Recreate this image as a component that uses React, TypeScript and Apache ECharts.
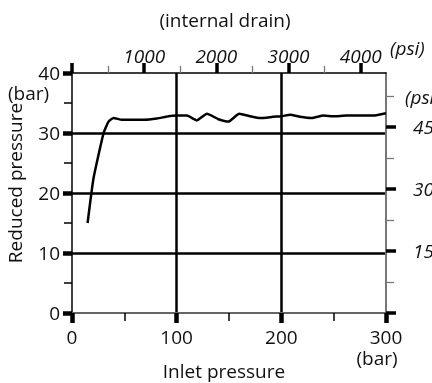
import React, { useEffect, useRef } from "react";
import * as echarts from "echarts";

// Data (bar units)
const inletBar = [14.9, 20.6, 30.2, 34.9, 39.7, 47.7, 68.3, 81.1, 92.2, 100.2, 109.8, 119.3, 128.9, 139.9, 149.5, 159.7, 170.2, 179.7, 192.4, 200.4, 208.4, 217.9, 229.1, 240.2, 249.7, 262.5, 287.9, 300];
const reducedBar = [15.0, 22.5, 30.0, 31.9, 32.5, 32.2, 32.2, 32.4, 32.8, 32.9, 32.9, 32.1, 33.2, 32.3, 31.9, 33.2, 32.8, 32.5, 32.7, 32.8, 33.05, 32.7, 32.5, 32.9, 32.8, 32.9, 32.9, 33.3];

const PSI_PER_BAR = 14.5038;
const inletMaxBar = 300;
const reducedMaxBar = 40;
const topPsiMajor = [0, 1000, 2000, 3000, 4000];
const topPsiLabels = [1000, 2000, 3000, 4000];
const topPsiMinor = [500, 1500, 2500, 3500];
const rightPsiMajor = [0, 150, 300, 450];
const rightPsiLabels = [150, 300, 450];
const rightPsiMinor = [75, 225, 375, 525];

const FONT = "'Open Sans', 'Liberation Sans', sans-serif";
const TXT = "#111";

export default function App() {
  const ref = useRef<HTMLDivElement>(null);
  useEffect(() => {
    if (!ref.current) return;
    const chart = echarts.init(ref.current, null, { renderer: "svg" });
    const data = inletBar.map((x, i) => [x, reducedBar[i]]);
    const labelStyle = { fontSize: 19, color: TXT, fontFamily: FONT };
    const plain = (v: number) => String(v);
    const txt = (text: string, x: number, y: number, extra: any = {}, styleExtra: any = {}) => ({
      type: "text",
      x,
      y,
      ...extra,
      style: { text, fontSize: 19, lineHeight: 15, fill: TXT, fontFamily: FONT, align: "center", verticalAlign: "middle", ...styleExtra },
    });
    chart.setOption({
      animation: false,
      grid: { left: 72, top: 73, width: 314, height: 240, containLabel: false, outerBoundsMode: "none" },
      xAxis: [
        {
          type: "value",
          position: "bottom",
          min: 0,
          max: inletMaxBar,
          interval: 100,
          axisLine: { show: true, onZero: false, lineStyle: { color: "#666", width: 2 } },
          axisTick: { show: true, length: 10, lineStyle: { color: "#000", width: 4.5 } },
          minorTick: { show: true, splitNumber: 2, length: 8, lineStyle: { color: "#000", width: 1.5 } },
          axisLabel: { ...labelStyle, margin: 14, formatter: plain },
          splitLine: { show: true, showMinLine: false, showMaxLine: false, lineStyle: { color: "#000", width: 2.5 } },
          minorSplitLine: { show: false },
        },
        {
          type: "value",
          position: "top",
          min: 0,
          max: inletMaxBar * PSI_PER_BAR,
          axisLine: { show: true, onZero: false, lineStyle: { color: "#000", width: 1.5 } },
          axisTick: { show: true, customValues: topPsiMinor, length: 7, lineStyle: { color: "#777", width: 1.3 } },
          axisLabel: { show: false },
          splitLine: { show: false },
        },
        {
          type: "value",
          position: "top",
          min: 0,
          max: inletMaxBar * PSI_PER_BAR,
          axisLine: { show: false, onZero: false },
          axisTick: { show: true, customValues: topPsiMajor, length: 10, lineStyle: { color: "#000", width: 3.5 } },
          axisLabel: { ...labelStyle, fontStyle: "italic", customValues: topPsiLabels, margin: 8, formatter: plain },
          splitLine: { show: false },
        },
      ],
      yAxis: [
        {
          type: "value",
          position: "left",
          min: 0,
          max: reducedMaxBar,
          interval: 10,
          axisLine: { show: true, onZero: false, lineStyle: { color: "#000", width: 1.5 } },
          axisTick: { show: true, length: 9, lineStyle: { color: "#000", width: 4.5 } },
          minorTick: { show: true, splitNumber: 2, length: 8, lineStyle: { color: "#000", width: 1.5 } },
          axisLabel: { ...labelStyle, margin: 12, formatter: plain },
          splitLine: { show: true, showMinLine: false, showMaxLine: false, lineStyle: { color: "#000", width: 2.5 } },
          minorSplitLine: { show: false },
        },
        {
          type: "value",
          position: "right",
          min: 0,
          max: reducedMaxBar * PSI_PER_BAR,
          axisLine: { show: true, onZero: false, lineStyle: { color: "#777", width: 2 } },
          axisTick: { show: true, customValues: rightPsiMinor, length: 8, lineStyle: { color: "#777", width: 1.3 } },
          axisLabel: { show: false },
          splitLine: { show: false },
        },
        {
          type: "value",
          position: "right",
          min: 0,
          max: reducedMaxBar * PSI_PER_BAR,
          axisLine: { show: false, onZero: false },
          axisTick: { show: true, customValues: rightPsiMajor, length: 10, lineStyle: { color: "#000", width: 3.5 } },
          axisLabel: { ...labelStyle, fontStyle: "italic", customValues: rightPsiLabels, margin: 27, formatter: plain },
          splitLine: { show: false },
        },
      ],
      series: [
        {
          type: "line",
          xAxisIndex: 0,
          yAxisIndex: 0,
          data,
          showSymbol: false,
          symbol: "none",
          smooth: 0.15,
          lineStyle: { color: "#000", width: 2.5 },
          z: 5,
        },
      ],
      graphic: [
        txt("(internal drain)", 225, 20),
        txt("(psi)", 390, 48, {}, { align: "left", fontStyle: "italic" }),
        txt("(psi)", 405, 97, {}, { align: "left", fontStyle: "italic" }),
        txt("(bar)", 8, 93, {}, { align: "left" }),
        txt("Reduced pressure", 15, 183, { rotation: Math.PI / 2 }),
        txt("(bar)", 377, 358),
        txt("Inlet pressure", 224, 371),
      ],
    });
    return () => chart.dispose();
  }, []);
  return <div ref={ref} style={{ position: "fixed", left: 0, top: 0, width: 432, height: 383 }} />;
}
